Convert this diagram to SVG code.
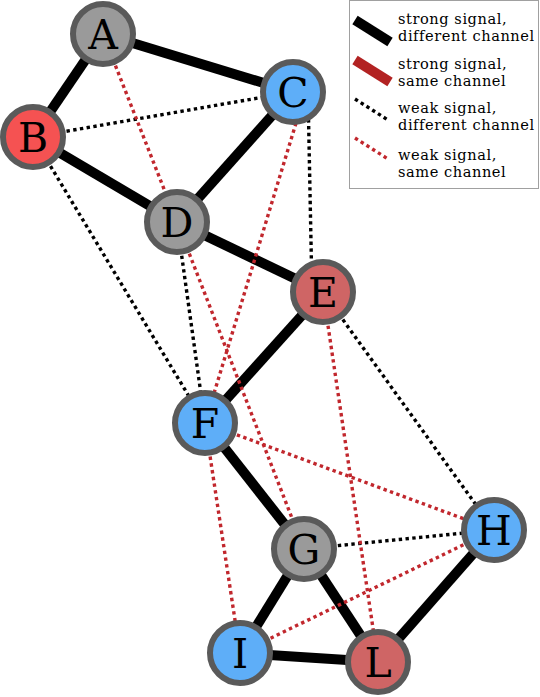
<svg xmlns="http://www.w3.org/2000/svg" width="540" height="697" viewBox="0 0 540 697">
<style>
.s{stroke:#000;stroke-width:10;stroke-linecap:butt;fill:none}
.wb{stroke:#000;stroke-width:3.4;stroke-dasharray:3.4,3.4;fill:none}
.wr{stroke:#c1272d;stroke-width:3.4;stroke-dasharray:3.4,3.4;fill:none}
.n circle{stroke:#5a5a5a;stroke-width:6}
.grey{fill:#9a9a9a}
.blue{fill:#5eaef8}
.red{fill:#f55252}
.dred{fill:#cf6565}
.n text{font-family:"DejaVu Serif","Liberation Serif",serif;font-size:41px;text-anchor:middle;fill:#000}
.lg{font-family:"DejaVu Serif","Liberation Serif",serif;font-size:14.6px;letter-spacing:0.55px;fill:#000}
</style>
<rect x="0" y="0" width="540" height="697" fill="#fff"/>
<g id="connectors">
<line class="s" x1="103" y1="34" x2="33" y2="137"/>
<line class="s" x1="103" y1="34" x2="293" y2="92"/>
<line class="s" x1="33" y1="137" x2="177" y2="222"/>
<line class="s" x1="293" y1="92" x2="177" y2="222"/>
<line class="s" x1="177" y1="222" x2="323" y2="292"/>
<line class="s" x1="323" y1="292" x2="205" y2="423"/>
<line class="s" x1="205" y1="423" x2="304" y2="549"/>
<line class="s" x1="304" y1="549" x2="240" y2="653"/>
<line class="s" x1="304" y1="549" x2="378" y2="662"/>
<line class="s" x1="240" y1="653" x2="378" y2="662"/>
<line class="s" x1="378" y1="662" x2="494" y2="530"/>
<line class="wb" x1="33" y1="137" x2="293" y2="92"/>
<line class="wb" x1="33" y1="137" x2="205" y2="423"/>
<line class="wb" x1="177" y1="222" x2="205" y2="423"/>
<line class="wb" x1="308" y1="92" x2="312" y2="292"/>
<line class="wb" x1="323" y1="292" x2="494" y2="530"/>
<line class="wb" x1="304" y1="549" x2="494" y2="530"/>
<line class="wr" x1="103" y1="34" x2="177" y2="222"/>
<line class="wr" x1="300" y1="110" x2="205" y2="423"/>
<line class="wr" x1="177" y1="222" x2="304" y2="549"/>
<line class="wr" x1="323" y1="292" x2="378" y2="662"/>
<line class="wr" x1="205" y1="423" x2="494" y2="530"/>
<line class="wr" x1="205" y1="423" x2="240" y2="653"/>
<line class="wr" x1="240" y1="653" x2="494" y2="530"/>
</g>
<g id="A" class="n"><circle class="grey" cx="103" cy="34" r="30"/><text x="103" y="49">A</text></g>
<g id="B" class="n"><circle class="red" cx="33" cy="137" r="30"/><text x="33" y="152">B</text></g>
<g id="C" class="n"><circle class="blue" cx="293" cy="92" r="30"/><text x="293" y="107">C</text></g>
<g id="D" class="n"><circle class="grey" cx="177" cy="222" r="30"/><text x="177" y="237">D</text></g>
<g id="E" class="n"><circle class="dred" cx="323" cy="292" r="30"/><text x="323" y="307">E</text></g>
<g id="F" class="n"><circle class="blue" cx="205" cy="423" r="30"/><text x="205" y="438">F</text></g>
<g id="G" class="n"><circle class="grey" cx="304" cy="549" r="30"/><text x="304" y="564">G</text></g>
<g id="H" class="n"><circle class="blue" cx="494" cy="530" r="30"/><text x="494" y="545">H</text></g>
<g id="I" class="n"><circle class="blue" cx="240" cy="653" r="30"/><text x="240" y="668">I</text></g>
<g id="L" class="n"><circle class="dred" cx="378" cy="662" r="30"/><text x="378" y="677">L</text></g>
<g id="legend">
<rect x="349.5" y="0.5" width="189" height="188" fill="#fff" stroke="#a0a0a0" stroke-width="1"/>
<line x1="355" y1="20" x2="390" y2="42" stroke="#000" stroke-width="10"/>
<line x1="355" y1="60" x2="390" y2="82" stroke="#b22222" stroke-width="10"/>
<line x1="355" y1="99" x2="388" y2="120" class="wb"/>
<line x1="355" y1="138" x2="388" y2="159" class="wr"/>
<text class="lg" x="398" y="24">strong signal,</text>
<text class="lg" x="398" y="41">different channel</text>
<text class="lg" x="398" y="69">strong signal,</text>
<text class="lg" x="398" y="86">same channel</text>
<text class="lg" x="398" y="113">weak signal,</text>
<text class="lg" x="398" y="130">different channel</text>
<text class="lg" x="398" y="160">weak signal,</text>
<text class="lg" x="398" y="177">same channel</text>
</g>
</svg>
